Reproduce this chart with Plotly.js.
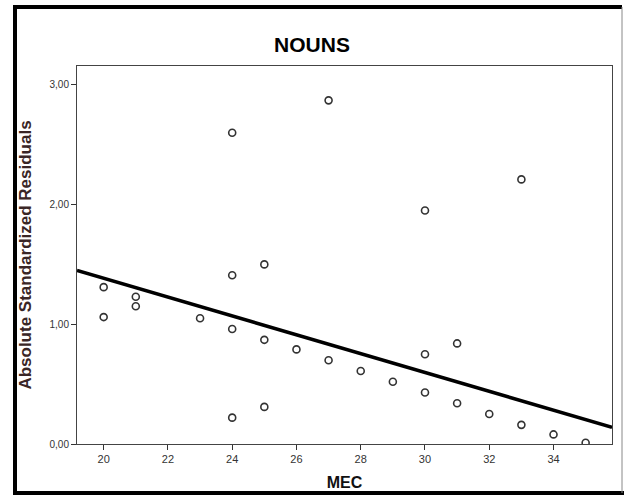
<!DOCTYPE html>
<html>
<head>
<meta charset="utf-8">
<script src="https://cdn.plot.ly/plotly-3.0.1.min.js"></script>
<style>html,body{margin:0;padding:0;background:#fff;}#chart{width:624px;height:497px;}</style>
</head>
<body>
<div id="chart"></div>
<script>
// Data
var mec = [20, 20, 21, 21, 23, 24, 24, 24, 24, 25, 25, 25, 26, 27, 27, 28, 29, 30, 30, 30, 31, 31, 32, 33, 33, 34, 35];
var residuals = [1.31, 1.06, 1.23, 1.15, 1.05, 2.60, 1.41, 0.96, 0.22, 1.50, 0.87, 0.31, 0.79, 2.87, 0.70, 0.61, 0.52, 1.95, 0.75, 0.43, 0.84, 0.34, 0.25, 2.21, 0.16, 0.08, 0.01];
var fitX = [19.17, 35.82];
var fitY = [1.45, 0.139];
var xTickVals = [20, 22, 24, 26, 28, 30, 32, 34];
var xTickText = ["20", "22", "24", "26", "28", "30", "32", "34"];
var yTickVals = [0, 1, 2, 3];
var yTickText = ["0,00", "1,00", "2,00", "3,00"];

var ml = 77, mr = 12, mt = 66, mb = 53, W = 624, H = 497;
var pw = W - ml - mr, ph = H - mt - mb;
function px(x) { return (x - ml) / pw; }
function py(y) { return (H - mb - y) / ph; }

var traces = [
  {
    x: mec, y: residuals, type: 'scatter', mode: 'markers',
    marker: {symbol: 'circle-open', size: 7, color: '#333', line: {width: 1.6, color: '#333'}},
    hoverinfo: 'skip', showlegend: false
  },
  {
    x: fitX, y: fitY, type: 'scatter', mode: 'lines',
    line: {color: '#000', width: 3.5},
    hoverinfo: 'skip', showlegend: false
  }
];

var layout = {
  width: W, height: H,
  margin: {l: ml, r: mr, t: mt, b: mb, pad: 0},
  paper_bgcolor: '#fff', plot_bgcolor: '#fff',
  showlegend: false,
  title: {
    text: '<b>NOUNS</b>', font: {family: 'Arial, Liberation Sans, sans-serif', size: 21, color: '#000'},
    x: 0.5, xref: 'container', y: 1 - 45 / H, yref: 'container', yanchor: 'middle'
  },
  xaxis: {
    range: [19.17, 35.82], tickvals: xTickVals, ticktext: xTickText,
    ticks: 'outside', ticklen: 5, tickwidth: 1, tickcolor: '#333',
    showline: true, linecolor: '#444', linewidth: 1, mirror: true,
    showgrid: false, zeroline: false,
    tickfont: {family: 'Arial, Liberation Sans, sans-serif', size: 11, color: '#333'},
    title: {text: '<b>MEC</b>', font: {family: 'Arial, Liberation Sans, sans-serif', size: 16, color: '#111'}, standoff: 12}
  },
  yaxis: {
    range: [0, 3.157], tickvals: yTickVals, ticktext: yTickText,
    ticks: 'outside', ticklen: 5, tickwidth: 1, tickcolor: '#333',
    showline: true, linecolor: '#444', linewidth: 1, mirror: true,
    showgrid: false, zeroline: false,
    tickfont: {family: 'Arial, Liberation Sans, sans-serif', size: 10, color: '#333'},
    title: {text: '<b>Absolute Standardized Residuals</b>', font: {family: 'Arial, Liberation Sans, sans-serif', size: 17, color: '#3a2626'}, standoff: 13}
  },
  shapes: [
    {type: 'line', xref: 'paper', yref: 'paper', x0: px(15), x1: px(15), y0: py(5), y1: py(495), line: {color: '#000', width: 4}},
    {type: 'line', xref: 'paper', yref: 'paper', x0: px(13), x1: px(622), y0: py(7), y1: py(7), line: {color: '#000', width: 4}},
    {type: 'line', xref: 'paper', yref: 'paper', x0: px(13), x1: px(624), y0: py(493), y1: py(493), line: {color: '#000', width: 4}},
    {type: 'line', xref: 'paper', yref: 'paper', x0: px(622), x1: px(622), y0: py(7), y1: py(493), line: {color: '#888', width: 1}}
  ]
};

Plotly.newPlot('chart', traces, layout, {displayModeBar: false, staticPlot: true});
</script>
</body>
</html>
